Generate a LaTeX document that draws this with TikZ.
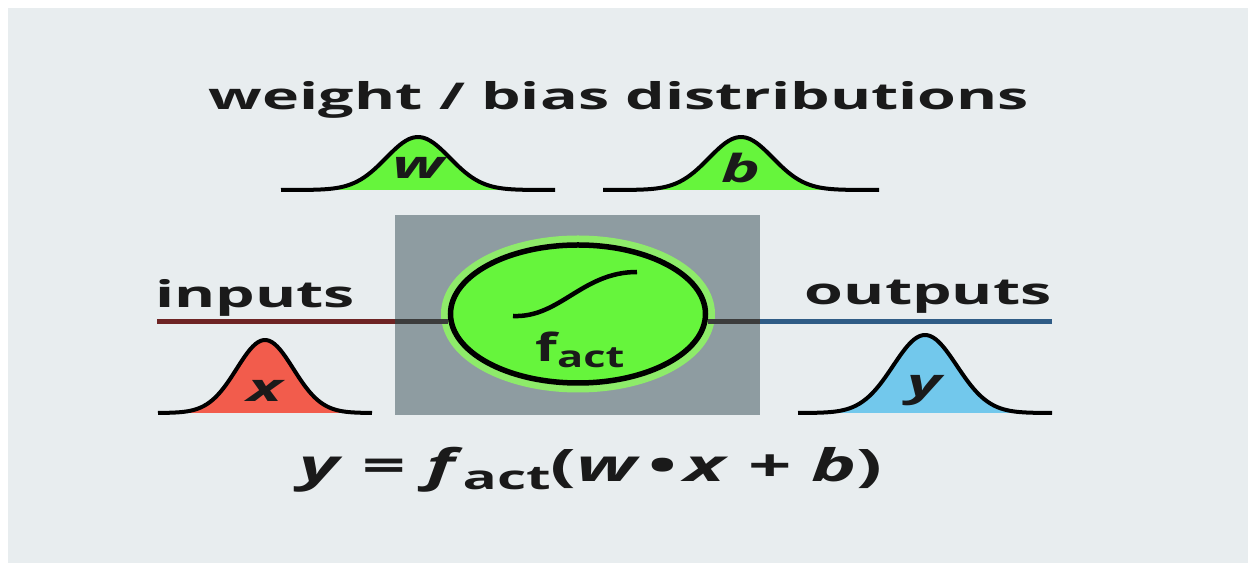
\documentclass[tikz,border=0pt]{standalone}
\usepackage{fontspec}
\setmainfont{Open Sans}[FakeStretch=1.45]
\newfontfamily\widefont{Open Sans}[FakeStretch=1.7]
\usepackage{tikz}
\usetikzlibrary{shapes.geometric}

\definecolor{panel}{HTML}{E8EDEF}
\definecolor{boxgray}{HTML}{8E9CA1}
\definecolor{actgreen}{HTML}{66F53C}
\definecolor{glowgreen}{HTML}{8EEB6A}
\definecolor{inred}{HTML}{6E2424}
\definecolor{outblue}{HTML}{2F5C86}
\definecolor{xred}{HTML}{F25C4C}
\definecolor{yblue}{HTML}{72C8EC}
\definecolor{ink}{HTML}{1A1A1A}

\begin{document}
\begin{tikzpicture}[
    x=0.2mm, y=-0.2mm,
    label text/.style={text=ink, font=\widefont\bfseries\fontsize{21}{24}\selectfont, inner sep=0pt},
    bell/.style={draw=black, line width=0.8mm, line join=round},
    bell label/.style={text=ink, font=\widefont\bfseries\itshape\fontsize{22}{24}\selectfont, inner sep=0pt},
    wire/.style={line width=1mm},
]

% background
\useasboundingbox (0,0) rectangle (1248,567);
\fill[white] (0,0) rectangle (1248,567);
\fill[panel] (8,8) rectangle (1248,563);

% title
\node[label text] (title) at (619,100) {weight / bias distributions};

% distributions
\foreach \cx/\base/\hw/\h/\s/\col/\lab in {418/190/137/53/45/actgreen/w, 741/190/138/53/45/actgreen/b,
        265/413/107/73/40/xred/x, 925/413/127/78/45/yblue/y}{
    \pgfmathsetmacro{\lo}{\cx-\hw}
    \pgfmathsetmacro{\hi}{\cx+\hw}
    \fill[\col] plot[domain=\lo:\hi, samples=80] (\x, {\base-\h*exp(-(((\x-\cx)/\s)^2))}) -- cycle;
    \draw[bell] plot[domain=\lo:\hi, samples=80] (\x, {\base-\h*exp(-(((\x-\cx)/\s)^2))});
    \node[bell label] (dist-\lab) at (\cx,\base-22) {\lab};
}

% activation unit
\node[fill=boxgray, minimum width=73mm, minimum height=40mm, inner sep=0pt] (core) at (577.5,315) {};
\coordinate (inL) at (157,322);
\coordinate (outR) at (1052,322);
\node[ellipse, inner sep=0pt, minimum width=51mm, minimum height=27.6mm, fill=actgreen,
      draw=black, line width=1.1mm, preaction={draw=glowgreen, line width=3.8mm}] (fact) at (578,314) {};

\draw[wire, inred] (inL) -- (core.west |- inL);
\draw[wire, ink!85] (core.west |- inL) -- (fact.west |- inL);
\draw[wire, ink!85] (fact.east |- outR) -- (core.east |- outR);
\draw[wire, outblue] (core.east |- outR) -- (outR);

\draw[line width=0.9mm] (513,316) .. controls (560,318) and (582,272) .. (637,272);
\node[text=ink, font=\bfseries\fontsize{22}{24}\selectfont, inner sep=0pt] (factlabel) at (580,350)
    {f{\fontsize{17}{20}\selectfont\raisebox{-0.35ex}{act}}};

\node[label text, anchor=base west] (inputs) at (155,308) {inputs};
\node[label text, anchor=base east] (outputs) at (1052,305) {outputs};

% formula
\node[text=ink, font=\widefont\bfseries\fontsize{25.5}{28}\selectfont, inner sep=0pt] (formula) at (591,470)
    {\textit{y} = \textit{f}{\fontsize{19}{20}\selectfont\raisebox{-0.4ex}{act}}(\textit{w}\,\textbullet\,\textit{x} + \textit{b})};

\end{tikzpicture}
\end{document}
